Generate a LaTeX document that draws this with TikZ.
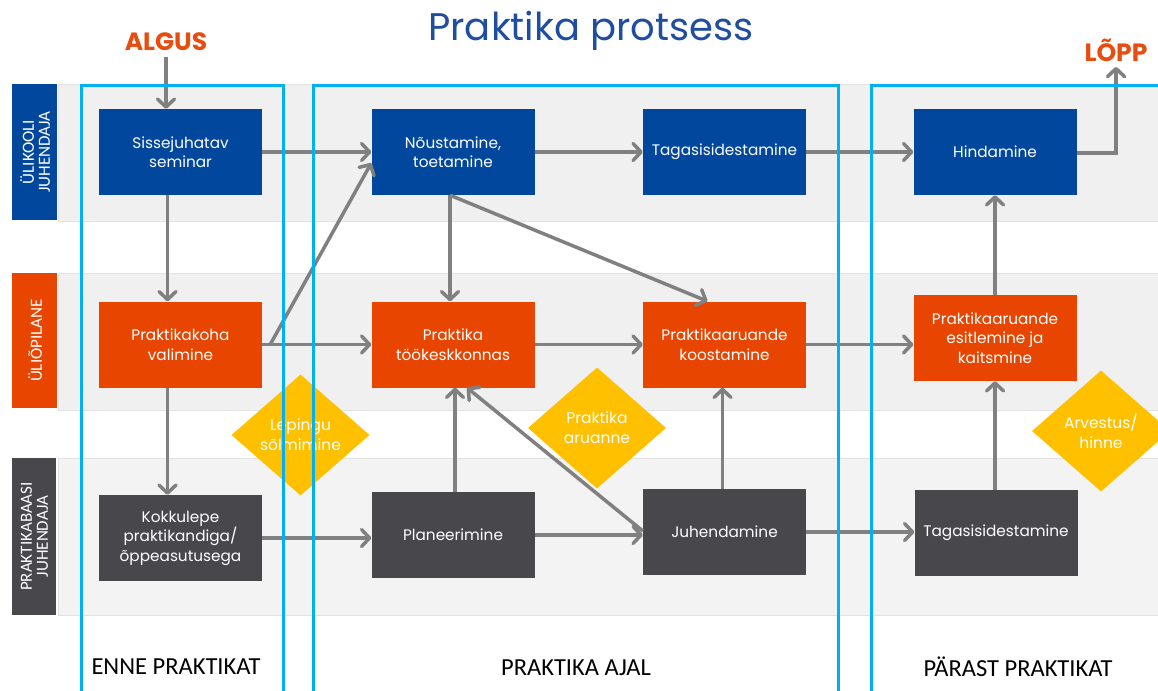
\documentclass[tikz,border=0pt]{standalone}
\usepackage{fontspec}
\setmainfont{Poppins}
\newfontfamily\calfont{Carlito}
\usetikzlibrary{arrows.meta,shapes.geometric}
\definecolor{uniblue}{HTML}{00479D}
\definecolor{uniorange}{HTML}{E84500}
\definecolor{unigray}{HTML}{48474C}
\definecolor{uniyellow}{HTML}{FFC000}
\definecolor{arrgray}{HTML}{808080}
\definecolor{framecyan}{HTML}{00B0F0}
\definecolor{bandgray}{HTML}{F0F0F0}
\definecolor{bandgrayb}{HTML}{F3F3F3}
\definecolor{bandline}{HTML}{E2E2E2}
\definecolor{titleblue}{HTML}{1F4E9F}
\definecolor{startred}{HTML}{E84C0E}
\tikzset{
  procbox/.style={rectangle, minimum width=163pt, minimum height=86pt, inner sep=2pt,
    align=center, text=white, font=\fontsize{15.3}{19.5}\selectfont},
  bluebox/.style={procbox, fill=uniblue},
  orangebox/.style={procbox, fill=uniorange},
  graybox/.style={procbox, fill=unigray},
  decision/.style={diamond, fill=uniyellow, minimum width=138pt, minimum height=121pt,
    inner sep=0pt, align=center, text=white, font=\fontsize{15.5}{20}\selectfont},
  flow/.style={draw=arrgray, line width=3.5pt, -{Straight Barb[length=8pt,width=17pt,round]}},
  phaseframe/.style={draw=framecyan, line width=3pt},
  band/.style={fill=bandgray, draw=bandline, line width=0.8pt},
  lanelabel/.style={rotate=90, align=center, text=white, font=\calfont\fontsize{17}{16}\selectfont},
  phasetext/.style={font=\calfont\fontsize{24.5}{26}\selectfont, text=black},
  endtext/.style={font=\bfseries\fontsize{25}{28}\selectfont, text=startred}
}
\begin{document}
\begin{tikzpicture}[x=1pt,y=-1pt]
\clip (0,0) rectangle (1158,690);
\fill[white] (0,0) rectangle (1158,690);

% lanes
\path[band] (58,84) rectangle (1170,221);
\path[band] (58,273) rectangle (1170,410);
\path[band, fill=bandgrayb] (58,458) rectangle (1170,615);
\fill[uniblue] (12,84) rectangle (57,220);
\fill[uniorange] (12,273) rectangle (57,408);
\fill[unigray] (12,458) rectangle (56,615);
\node[lanelabel] (lane1) at (35,152) {ÜLIKOOLI\\JUHENDAJA};
\node[lanelabel] (lane2) at (35,340.5) {ÜLIÕPILANE};
\node[lanelabel] (lane3) at (34.5,536.5) {PRAKTIKABAASI\\JUHENDAJA};

% title and start/end
\node[font=\fontsize{38.5}{42}\selectfont, text=titleblue] (title) at (591,31) {Praktika protsess};
\node[endtext] (algus) at (166,42) {ALGUS};
\node[endtext] (lopp) at (1116,50) {LÕPP};

% boxes
\node[bluebox] (sis) at (180.5,152) {Sissejuhatav\\seminar};
\node[bluebox] (nou) at (453,152) {Nõustamine,\\toetamine};
\node[bluebox] (tag1) at (724.5,152) {Tagasisidestamine};
\node[bluebox] (hind) at (995,152) {Hindamine};
\node[orangebox] (pkv) at (180.5,344.5) {Praktikakoha\\valimine};
\node[orangebox] (ptk) at (453,344.5) {Praktika\\töökeskkonnas};
\node[orangebox] (pak) at (724.5,344.5) {Praktikaaruande\\koostamine};
\node[orangebox] (pes) at (995,338) {Praktikaaruande\\esitlemine ja\\kaitsmine};
\node[graybox] (kok) at (180.5,538) {Kokkulepe\\praktikandiga/\\õppeasutusega};
\node[graybox] (plan) at (453,535) {Planeerimine};
\node[graybox] (juh) at (724.5,532) {Juhendamine};
\node[graybox] (tag2) at (996,533) {Tagasisidestamine};

% connectors
\draw[flow] ([yshift=-2pt]algus.south) -- (algus.south |- sis.north);
\draw[flow] (sis.east) -- (nou.west);
\draw[flow] ([xshift=-13pt]sis.south) -- ([xshift=-13pt]pkv.north);
\draw[flow] (pkv.east) -- (ptk.west);
\draw[flow] ([xshift=8pt]pkv.east) -- ([yshift=-11pt]nou.west);
\draw[flow] ([xshift=-13pt]pkv.south) -- ([xshift=-13pt]kok.north);
\draw[flow] (kok.east) -- (kok.east -| plan.west);
\draw[flow] (nou.east) -- (tag1.west);
\draw[flow] ([xshift=-3pt]nou.south) -- ([xshift=-3pt]ptk.north);
\draw[flow] ([xshift=-3pt]nou.south) -- ([xshift=-17pt]pak.north);
\draw[flow] (ptk.east) -- (pak.west);
\draw[flow] ([xshift=2pt]plan.north) -- ([xshift=2pt]ptk.south);
\draw[flow] (plan.east) -- (plan.east -| juh.west);
\draw[flow] ([yshift=1pt]juh.west) -- ([xshift=14pt]ptk.south);
\draw[flow] ([xshift=-2pt]juh.north) -- ([xshift=-2pt]pak.south);
\draw[flow] (tag1.east) -- (hind.west);
\draw[flow] (pak.east) -- (pak.east -| pes.west);
\draw[flow] (juh.east) -- (juh.east -| tag2.west);
\draw[flow] ([xshift=-1pt]tag2.north) -- ([xshift=-1pt]tag2.north |- pes.south);
\draw[flow] (pes.north) -- (hind.south);
\draw[flow] ([yshift=-1pt]hind.east) -| ([yshift=-2pt]lopp.south);

% decisions
\node[decision] (lep) at (300.5,435) {Lepingu\\sõlmimine};
\node[decision] (par) at (597,428) {Praktika\\aruanne};
\node[decision] (arv) at (1101,431) {Arvestus/\\hinne};

% phase frames
\draw[phaseframe] (81,86) rectangle (283,720);
\draw[phaseframe] (313,86) rectangle (838,720);
\draw[phaseframe] (871,86) rectangle (1200,720);

% phase labels
\node[phasetext] (ph1) at (176,667) {ENNE PRAKTIKAT};
\node[phasetext] (ph2) at (576,668) {PRAKTIKA AJAL};
\node[phasetext] (ph3) at (1018,667) {PÄRAST PRAKTIKAT};
\end{tikzpicture}
\end{document}
